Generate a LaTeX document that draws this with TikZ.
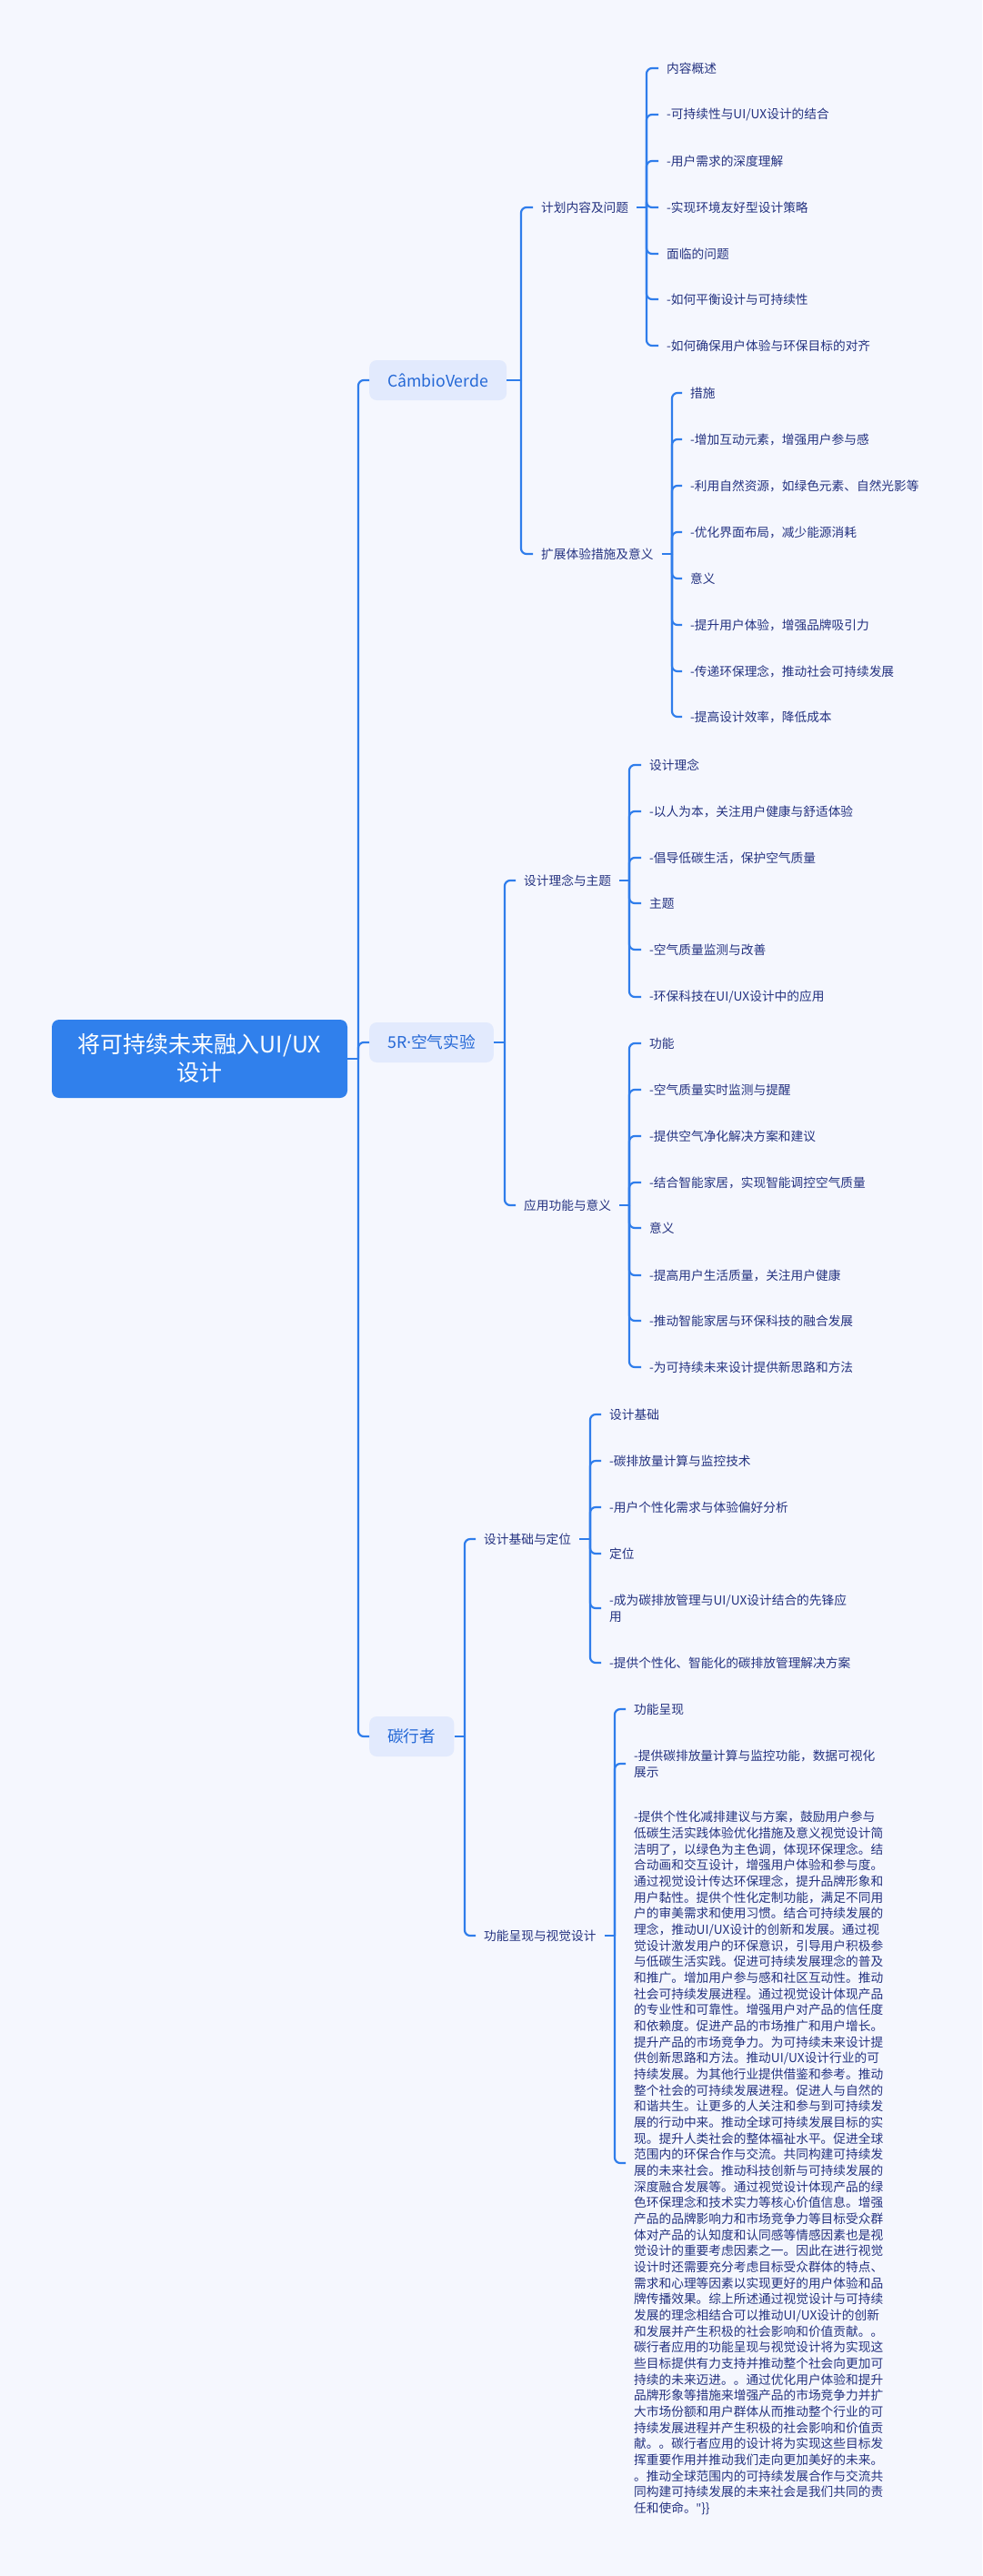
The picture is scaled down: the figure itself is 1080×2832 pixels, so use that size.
\documentclass[tikz,border=0pt]{standalone}
\usepackage{fontspec}
\setmainfont{Noto Sans CJK SC}
\newfontfamily\latinfont{Noto Sans}
\definecolor{bg}{RGB}{245,247,254}
\definecolor{lineblue}{RGB}{47,125,235}
\definecolor{rootblue}{RGB}{48,128,236}
\definecolor{lonefill}{RGB}{226,234,253}
\definecolor{lonetext}{RGB}{36,104,214}
\definecolor{leaftext}{RGB}{36,50,128}
\newcommand\mmleaf[5]{%
  \node[leaf] (#1) at (#3,#4) {#5};
  \draw[conn] (#2) |- ([xshift=-9pt]#1.west);}
\begin{document}
\begin{tikzpicture}[x=1pt,y=-1pt,
  conn/.style={draw=lineblue,line width=2.2pt,rounded corners=6pt},
  leaf/.style={anchor=west,inner sep=0pt,text=leaftext,font=\fontsize{13.7}{17.67}\selectfont,align=left},
  lone/.style={anchor=west,fill=lonefill,rounded corners=8pt,inner xsep=20pt,inner ysep=0pt,minimum height=44pt,text=lonetext,font=\fontsize{17.7}{20}\selectfont},
  rootbox/.style={fill=rootblue,rounded corners=8pt,minimum width=325pt,minimum height=86pt,text=white,align=center,font=\fontsize{25}{31}\selectfont}]
\useasboundingbox[fill=bg] (0,0) rectangle (1080,2832);

% root
\node[rootbox] (root) at (219.5,1164) {将可持续未来融入UI/UX\\设计};
\coordinate (j0) at (394,1164);
\draw[conn] (root.east) -- (j0);

% level 1
\node[lone] (cv) at (406,418) {CâmbioVerde};
\node[lone] (fr) at (406,1146) {5R{\latinfont ·}空气实验};
\node[lone] (tx) at (406,1909) {碳行者};
\draw[conn] (j0) |- (cv.west);
\draw[conn] (j0) |- (fr.west);
\draw[conn] (j0) |- (tx.west);

% CâmbioVerde
\coordinate (j1) at (573,418);
\draw[conn] (cv.east) -- (j1);
\mmleaf{a}{j1}{595}{228}{计划内容及问题}
\mmleaf{b}{j1}{595}{609}{扩展体验措施及意义}

\coordinate (ja) at (711,228);
\draw[conn] ([xshift=9pt]a.east) -- (ja);
\mmleaf{a1}{ja}{733}{75}{内容概述}
\mmleaf{a2}{ja}{733}{126}{-可持续性与UI/UX设计的结合}
\mmleaf{a3}{ja}{733}{177}{-用户需求的深度理解}
\mmleaf{a4}{ja}{733}{228}{-实现环境友好型设计策略}
\mmleaf{a5}{ja}{733}{279}{面临的问题}
\mmleaf{a6}{ja}{733}{329}{-如何平衡设计与可持续性}
\mmleaf{a7}{ja}{733}{380}{-如何确保用户体验与环保目标的对齐}

\coordinate (jb) at (739,609);
\draw[conn] ([xshift=9pt]b.east) -- (jb);
\mmleaf{b1}{jb}{759}{432}{措施}
\mmleaf{b2}{jb}{759}{483}{-增加互动元素，增强用户参与感}
\mmleaf{b3}{jb}{759}{534}{-利用自然资源，如绿色元素、自然光影等}
\mmleaf{b4}{jb}{759}{585}{-优化界面布局，减少能源消耗}
\mmleaf{b5}{jb}{759}{636}{意义}
\mmleaf{b6}{jb}{759}{687}{-提升用户体验，增强品牌吸引力}
\mmleaf{b7}{jb}{759}{738}{-传递环保理念，推动社会可持续发展}
\mmleaf{b8}{jb}{759}{788}{-提高设计效率，降低成本}

% 5R
\coordinate (j2) at (555,1146);
\draw[conn] (fr.east) -- (j2);
\mmleaf{c}{j2}{576}{968}{设计理念与主题}
\mmleaf{d}{j2}{576}{1325}{应用功能与意义}

\coordinate (jc) at (692,968);
\draw[conn] ([xshift=9pt]c.east) -- (jc);
\mmleaf{c1}{jc}{714}{841}{设计理念}
\mmleaf{c2}{jc}{714}{892}{-以人为本，关注用户健康与舒适体验}
\mmleaf{c3}{jc}{714}{943}{-倡导低碳生活，保护空气质量}
\mmleaf{c4}{jc}{714}{993}{主题}
\mmleaf{c5}{jc}{714}{1044}{-空气质量监测与改善}
\mmleaf{c6}{jc}{714}{1096}{-环保科技在UI/UX设计中的应用}

\coordinate (jd) at (692,1325);
\draw[conn] ([xshift=9pt]d.east) -- (jd);
\mmleaf{d1}{jd}{714}{1147}{功能}
\mmleaf{d2}{jd}{714}{1198}{-空气质量实时监测与提醒}
\mmleaf{d3}{jd}{714}{1249}{-提供空气净化解决方案和建议}
\mmleaf{d4}{jd}{714}{1300}{-结合智能家居，实现智能调控空气质量}
\mmleaf{d5}{jd}{714}{1350}{意义}
\mmleaf{d6}{jd}{714}{1402}{-提高用户生活质量，关注用户健康}
\mmleaf{d7}{jd}{714}{1452}{-推动智能家居与环保科技的融合发展}
\mmleaf{d8}{jd}{714}{1503}{-为可持续未来设计提供新思路和方法}

% 碳行者
\coordinate (j3) at (511,1909);
\draw[conn] (tx.east) -- (j3);
\mmleaf{e}{j3}{532}{1692}{设计基础与定位}
\mmleaf{f}{j3}{532}{2128}{功能呈现与视觉设计}

\coordinate (je) at (649,1692);
\draw[conn] ([xshift=9pt]e.east) -- (je);
\mmleaf{e1}{je}{670}{1555}{设计基础}
\mmleaf{e2}{je}{670}{1606}{-碳排放量计算与监控技术}
\mmleaf{e3}{je}{670}{1657}{-用户个性化需求与体验偏好分析}
\mmleaf{e4}{je}{670}{1708}{定位}
\mmleaf{e5}{je}{670}{1768}{-成为碳排放管理与UI/UX设计结合的先锋应\\用}
\mmleaf{e6}{je}{670}{1828}{-提供个性化、智能化的碳排放管理解决方案}

\coordinate (jf) at (676,2128);
\draw[conn] ([xshift=9pt]f.east) -- (jf);
\mmleaf{f1}{jf}{697}{1879}{功能呈现}
\mmleaf{f2}{jf}{697}{1939}{-提供碳排放量计算与监控功能，数据可视化\\展示}
\mmleaf{f3}{jf}{697}{2378}{-提供个性化减排建议与方案，鼓励用户参与\\
低碳生活实践体验优化措施及意义视觉设计简\\
洁明了，以绿色为主色调，体现环保理念。结\\
合动画和交互设计，增强用户体验和参与度。\\
通过视觉设计传达环保理念，提升品牌形象和\\
用户黏性。提供个性化定制功能，满足不同用\\
户的审美需求和使用习惯。结合可持续发展的\\
理念，推动UI/UX设计的创新和发展。通过视\\
觉设计激发用户的环保意识，引导用户积极参\\
与低碳生活实践。促进可持续发展理念的普及\\
和推广。增加用户参与感和社区互动性。推动\\
社会可持续发展进程。通过视觉设计体现产品\\
的专业性和可靠性。增强用户对产品的信任度\\
和依赖度。促进产品的市场推广和用户增长。\\
提升产品的市场竞争力。为可持续未来设计提\\
供创新思路和方法。推动UI/UX设计行业的可\\
持续发展。为其他行业提供借鉴和参考。推动\\
整个社会的可持续发展进程。促进人与自然的\\
和谐共生。让更多的人关注和参与到可持续发\\
展的行动中来。推动全球可持续发展目标的实\\
现。提升人类社会的整体福祉水平。促进全球\\
范围内的环保合作与交流。共同构建可持续发\\
展的未来社会。推动科技创新与可持续发展的\\
深度融合发展等。通过视觉设计体现产品的绿\\
色环保理念和技术实力等核心价值信息。增强\\
产品的品牌影响力和市场竞争力等目标受众群\\
体对产品的认知度和认同感等情感因素也是视\\
觉设计的重要考虑因素之一。因此在进行视觉\\
设计时还需要充分考虑目标受众群体的特点、\\
需求和心理等因素以实现更好的用户体验和品\\
牌传播效果。综上所述通过视觉设计与可持续\\
发展的理念相结合可以推动UI/UX设计的创新\\
和发展并产生积极的社会影响和价值贡献。。\\
碳行者应用的功能呈现与视觉设计将为实现这\\
些目标提供有力支持并推动整个社会向更加可\\
持续的未来迈进。。通过优化用户体验和提升\\
品牌形象等措施来增强产品的市场竞争力并扩\\
大市场份额和用户群体从而推动整个行业的可\\
持续发展进程并产生积极的社会影响和价值贡\\
献。。碳行者应用的设计将为实现这些目标发\\
挥重要作用并推动我们走向更加美好的未来。\\
。推动全球范围内的可持续发展合作与交流共\\
同构建可持续发展的未来社会是我们共同的责\\
任和使命。{\latinfont"}\}\}}
\end{tikzpicture}
\end{document}
